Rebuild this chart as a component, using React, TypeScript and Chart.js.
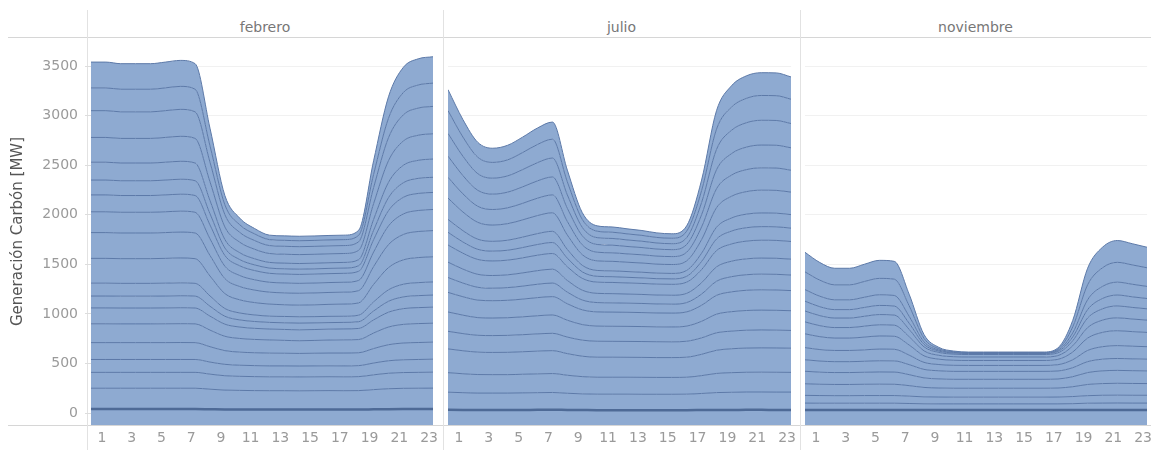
import { useEffect, useRef } from 'react';
import { Chart, registerables } from 'chart.js';

Chart.register(...registerables);

// Hours of the day (x) and the hours that carry a label
const HOURS = [0, 1, 2, 3, 4, 5, 6, 7, 8, 9, 10, 11, 12, 13, 14, 15, 16, 17, 18, 19, 20, 21, 22, 23];
const TICK_HOURS = [1, 3, 5, 7, 9, 11, 13, 15, 17, 19, 21, 23];
const Y_TICKS = [0, 500, 1000, 1500, 2000, 2500, 3000, 3500];
const MONTHS = ['febrero', 'julio', 'noviembre'];
const Y_TITLE = 'Generación Carbón [MW]';

// Hourly output [MW] of each coal unit, stacked bottom to top
const FEB_LAYERS: number[][] = [
  [40, 40, 40, 40, 40, 40, 40, 40, 38, 36, 36, 35, 35, 35, 35, 35, 35, 35, 35, 37, 39, 40, 40, 40],
  [210, 210, 210, 210, 210, 210, 210, 210, 202, 195, 192, 191, 190, 190, 189, 190, 191, 190, 191, 199, 206, 209, 210, 211],
  [160, 160, 160, 160, 160, 160, 160, 160, 152, 145, 142, 141, 140, 140, 140, 140, 140, 140, 141, 149, 156, 159, 160, 161],
  [130, 130, 130, 130, 130, 130, 130, 130, 122, 115, 112, 111, 110, 110, 110, 110, 110, 110, 111, 119, 126, 129, 130, 131],
  [170, 170, 170, 170, 170, 170, 171, 170, 155, 138, 132, 130, 129, 128, 127, 128, 129, 130, 130, 146, 162, 169, 171, 172],
  [190, 190, 189, 189, 189, 190, 190, 189, 167, 145, 138, 134, 133, 130, 128, 129, 131, 133, 133, 157, 178, 188, 191, 191],
  [160, 160, 160, 160, 160, 160, 161, 160, 141, 122, 115, 112, 110, 110, 110, 110, 110, 110, 112, 132, 150, 159, 161, 162],
  [120, 120, 120, 120, 120, 120, 121, 120, 100, 80, 72, 69, 67, 67, 68, 67, 66, 66, 68, 90, 110, 118, 121, 122],
  [130, 130, 129, 129, 129, 130, 130, 129, 104, 78, 70, 66, 63, 64, 64, 63, 63, 62, 66, 92, 116, 128, 131, 132],
  [250, 250, 249, 249, 249, 250, 251, 249, 201, 150, 133, 125, 122, 118, 117, 119, 121, 123, 124, 176, 224, 246, 253, 254],
  [260, 260, 259, 259, 259, 260, 261, 259, 207, 152, 134, 126, 120, 120, 120, 120, 120, 120, 124, 180, 232, 256, 263, 264],
  [210, 210, 209, 209, 209, 210, 211, 209, 168, 125, 111, 104, 100, 100, 100, 100, 100, 100, 103, 147, 188, 207, 212, 213],
  [170, 170, 169, 169, 169, 170, 171, 169, 140, 108, 98, 93, 90, 90, 90, 90, 90, 90, 92, 124, 154, 168, 172, 172],
  [150, 150, 149, 149, 149, 150, 151, 149, 113, 76, 63, 57, 53, 53, 53, 53, 53, 53, 56, 95, 131, 147, 152, 153],
  [180, 180, 179, 179, 179, 180, 181, 179, 133, 85, 69, 62, 57, 57, 57, 57, 57, 57, 61, 110, 155, 176, 182, 184],
  [250, 250, 248, 248, 248, 250, 252, 248, 189, 127, 106, 96, 90, 90, 90, 90, 90, 90, 95, 159, 218, 245, 253, 255],
  [270, 270, 268, 268, 268, 270, 272, 268, 198, 124, 99, 88, 80, 80, 80, 80, 80, 80, 86, 162, 232, 264, 274, 276],
  [230, 230, 228, 228, 228, 230, 232, 228, 165, 99, 77, 67, 60, 60, 60, 60, 60, 60, 65, 133, 196, 225, 233, 235],
  [260, 260, 258, 258, 258, 260, 262, 258, 178, 94, 67, 54, 45, 45, 45, 45, 45, 45, 51, 137, 217, 254, 264, 266],
];

const JUL_LAYERS: number[][] = [
  [32, 31, 30, 30, 30, 31, 32, 33, 31, 30, 29, 29, 29, 29, 29, 29, 29, 30, 31, 31, 32, 32, 31, 31],
  [178, 174, 171, 171, 171, 172, 173, 174, 168, 163, 161, 161, 161, 160, 160, 160, 161, 167, 175, 178, 180, 180, 180, 180],
  [197, 191, 187, 186, 186, 188, 190, 191, 182, 174, 171, 171, 171, 171, 170, 170, 171, 180, 193, 198, 199, 200, 200, 199],
  [240, 232, 226, 224, 225, 227, 229, 231, 218, 206, 202, 202, 201, 201, 200, 200, 202, 215, 234, 241, 244, 245, 245, 244],
  [177, 173, 170, 170, 171, 172, 174, 175, 167, 162, 161, 160, 160, 160, 160, 159, 161, 166, 176, 178, 180, 181, 180, 179],
  [195, 186, 178, 177, 178, 180, 183, 185, 170, 157, 153, 152, 152, 151, 150, 150, 153, 167, 188, 196, 199, 200, 200, 199],
  [198, 186, 177, 175, 176, 179, 183, 185, 166, 149, 143, 143, 142, 141, 140, 140, 143, 162, 190, 200, 204, 205, 205, 203],
  [150, 138, 129, 126, 128, 131, 135, 137, 117, 99, 94, 93, 92, 92, 91, 90, 94, 113, 142, 153, 157, 158, 158, 157],
  [155, 141, 131, 128, 129, 133, 137, 140, 118, 99, 93, 93, 92, 91, 90, 90, 93, 114, 145, 156, 160, 162, 162, 160],
  [173, 160, 150, 147, 148, 152, 156, 158, 138, 119, 113, 113, 112, 111, 110, 110, 113, 133, 164, 174, 179, 180, 180, 178],
  [128, 113, 102, 99, 100, 104, 108, 111, 87, 66, 59, 58, 57, 56, 55, 55, 59, 82, 117, 130, 135, 137, 137, 135],
  [130, 114, 102, 99, 101, 105, 110, 113, 88, 66, 59, 59, 58, 57, 56, 55, 59, 83, 119, 132, 137, 138, 138, 136],
  [215, 189, 170, 164, 167, 174, 182, 187, 145, 108, 97, 96, 94, 93, 91, 90, 97, 137, 197, 219, 227, 230, 230, 227],
  [210, 183, 162, 157, 160, 167, 175, 180, 137, 99, 87, 86, 84, 83, 81, 80, 87, 128, 191, 213, 222, 225, 225, 221],
  [213, 184, 161, 155, 158, 166, 175, 181, 133, 91, 78, 77, 75, 73, 71, 70, 78, 123, 192, 217, 227, 230, 230, 226],
  [230, 195, 168, 161, 164, 174, 184, 191, 135, 85, 69, 68, 66, 64, 61, 60, 69, 123, 205, 235, 246, 250, 250, 245],
  [230, 194, 166, 159, 162, 172, 183, 190, 132, 80, 65, 63, 61, 59, 56, 55, 65, 120, 204, 234, 246, 250, 250, 245],
  [211, 176, 150, 143, 147, 156, 166, 173, 118, 69, 54, 53, 51, 49, 46, 45, 54, 107, 187, 215, 227, 230, 230, 225],
];

const NOV_LAYERS: number[][] = [
  [30, 30, 30, 30, 30, 30, 30, 30, 30, 30, 30, 30, 30, 30, 30, 30, 30, 30, 30, 30, 30, 30, 30, 30],
  [70, 69, 69, 69, 69, 69, 69, 66, 63, 62, 62, 62, 62, 62, 62, 62, 62, 62, 64, 69, 70, 71, 70, 70],
  [78, 77, 76, 76, 77, 77, 77, 74, 70, 69, 68, 68, 68, 68, 68, 68, 68, 69, 72, 76, 79, 79, 79, 79],
  [117, 114, 113, 113, 114, 115, 114, 106, 95, 91, 90, 90, 90, 90, 90, 90, 90, 91, 99, 113, 118, 120, 119, 118],
  [126, 122, 120, 120, 121, 123, 123, 111, 96, 92, 90, 90, 90, 90, 90, 90, 90, 91, 101, 120, 128, 130, 129, 128],
  [116, 112, 110, 110, 111, 113, 113, 101, 86, 82, 80, 80, 80, 80, 80, 80, 80, 81, 91, 110, 118, 120, 119, 118],
  [123, 116, 113, 113, 115, 118, 117, 96, 71, 63, 61, 60, 60, 60, 60, 60, 60, 63, 80, 113, 126, 130, 128, 126],
  [139, 130, 125, 125, 129, 132, 131, 102, 66, 54, 51, 50, 50, 50, 50, 50, 50, 54, 78, 125, 144, 150, 147, 144],
  [120, 111, 106, 106, 110, 113, 112, 84, 50, 39, 36, 35, 35, 35, 35, 35, 35, 38, 62, 106, 124, 130, 127, 124],
  [110, 101, 96, 96, 100, 103, 102, 74, 40, 29, 26, 25, 25, 25, 25, 25, 25, 28, 52, 96, 114, 120, 117, 114],
  [99, 90, 85, 85, 89, 92, 91, 62, 26, 14, 11, 10, 10, 10, 10, 10, 10, 14, 38, 85, 104, 110, 107, 104],
  [117, 106, 99, 99, 103, 108, 107, 70, 25, 10, 6, 5, 5, 5, 5, 5, 5, 10, 41, 99, 122, 130, 127, 122],
  [179, 162, 151, 151, 159, 165, 164, 106, 35, 13, 7, 5, 5, 5, 5, 5, 5, 12, 60, 151, 188, 200, 195, 188],
  [197, 178, 167, 167, 174, 182, 180, 117, 39, 14, 7, 5, 5, 5, 5, 5, 5, 13, 66, 167, 207, 220, 214, 207],
];

const Y_MIN = -121;
const Y_MAX = 3783;

const FONT = "'DejaVu Sans', 'Open Sans', sans-serif";
const AREA_FILL = 'rgb(142, 170, 209)';
const AREA_LINE = 'rgb(92, 121, 168)';
const BASE_LINE = 'rgb(78, 106, 150)';
const PLOT_TOP = 38;
const AXIS_H = 25;
const RIGHT_PAD = 12;

type PanelProps = {
  layers: number[][];
  left: number;
  width: number;
  axisWidth: number;
};

function Panel({ layers, left, width, axisWidth }: PanelProps) {
  const ref = useRef<HTMLCanvasElement>(null);

  useEffect(() => {
    const canvas = ref.current;
    if (!canvas) return;
    const showY = axisWidth > 0;
    const chart = new Chart(canvas, {
      type: 'line',
      data: {
        datasets: layers.map((row, i) => ({
          data: row.map((v, j) => ({ x: HOURS[j], y: v })),
          fill: i === 0 ? 'start' : '-1',
          backgroundColor: AREA_FILL,
          borderColor: i === 0 ? BASE_LINE : AREA_LINE,
          borderWidth: i === 0 ? 2.5 : 1,
          pointRadius: 0,
          cubicInterpolationMode: 'monotone' as const,
        })),
      },
      options: {
        animation: false,
        responsive: false,
        maintainAspectRatio: false,
        layout: {
          autoPadding: false,
          padding: { top: PLOT_TOP, right: RIGHT_PAD, left: 0, bottom: 0 },
        },
        plugins: {
          legend: { display: false },
          tooltip: { enabled: false },
        },
        scales: {
          x: {
            type: 'linear',
            min: 0,
            max: 23,
            grid: { display: false, drawTicks: false },
            border: { display: false },
            afterBuildTicks: (axis: any) => {
              axis.ticks = TICK_HOURS.map((v) => ({ value: v }));
            },
            afterFit: (axis: any) => {
              axis.height = AXIS_H;
            },
            ticks: {
              autoSkip: false,
              maxRotation: 0,
              padding: 5,
              labelOffset: -4,
              color: '#9a9a9a',
              font: { family: FONT, size: 14 },
              callback: (v: any) => String(v),
            },
          },
          y: {
            type: 'linear',
            stacked: true,
            min: Y_MIN,
            max: Y_MAX,
            afterBuildTicks: (axis: any) => {
              axis.ticks = Y_TICKS.map((v) => ({ value: v }));
            },
            afterFit: (axis: any) => {
              axis.width = axisWidth;
            },
            grid: {
              color: '#f1f1f1',
              lineWidth: 1,
              drawTicks: showY,
              tickLength: 6,
              tickColor: '#dddddd',
            },
            border: { display: false },
            ticks: {
              display: showY,
              padding: 7,
              color: '#9a9a9a',
              font: { family: FONT, size: 14 },
              callback: (v: any) => String(v),
            },
            title: {
              display: showY,
              text: Y_TITLE,
              color: '#555555',
              font: { family: FONT, size: 15 },
              padding: { top: 9, bottom: 0 },
            },
          },
        },
      },
    });
    return () => chart.destroy();
  }, [layers, axisWidth]);

  return (
    <canvas
      ref={ref}
      width={width}
      height={450}
      style={{ position: 'absolute', left, top: 0, width, height: 450 }}
    />
  );
}

const lineStyle = (left: number, top: number, w: number, h: number, color: string) => ({
  position: 'absolute' as const,
  left,
  top,
  width: w,
  height: h,
  background: color,
});

export default function App() {
  const sep = [87, 443, 800];
  const edges = [87, 443, 800, 1151];
  return (
    <div
      style={{
        position: 'absolute',
        left: 0,
        top: 0,
        width: 1151,
        height: 450,
        overflow: 'hidden',
        background: '#ffffff',
      }}
    >
      <div style={lineStyle(8, 37, 1143, 1, '#d6d6d6')} />
      <div style={lineStyle(8, 425, 1143, 1, '#d6d6d6')} />
      {sep.map((x) => (
        <div key={x} style={lineStyle(x, 10, 1, 440, '#e2e2e2')} />
      ))}
      {MONTHS.map((m, i) => (
        <div
          key={m}
          style={{
            position: 'absolute',
            left: edges[i],
            width: edges[i + 1] - edges[i],
            top: 17,
            height: 20,
            lineHeight: '20px',
            textAlign: 'center',
            fontFamily: FONT,
            fontSize: 14,
            color: '#777777',
          }}
        >
          {m}
        </div>
      ))}
      <Panel layers={FEB_LAYERS} left={0} width={435 + RIGHT_PAD} axisWidth={91} />
      <Panel layers={JUL_LAYERS} left={448} width={345 + RIGHT_PAD} axisWidth={0} />
      <Panel layers={NOV_LAYERS} left={805} width={344 + RIGHT_PAD} axisWidth={0} />
    </div>
  );
}
